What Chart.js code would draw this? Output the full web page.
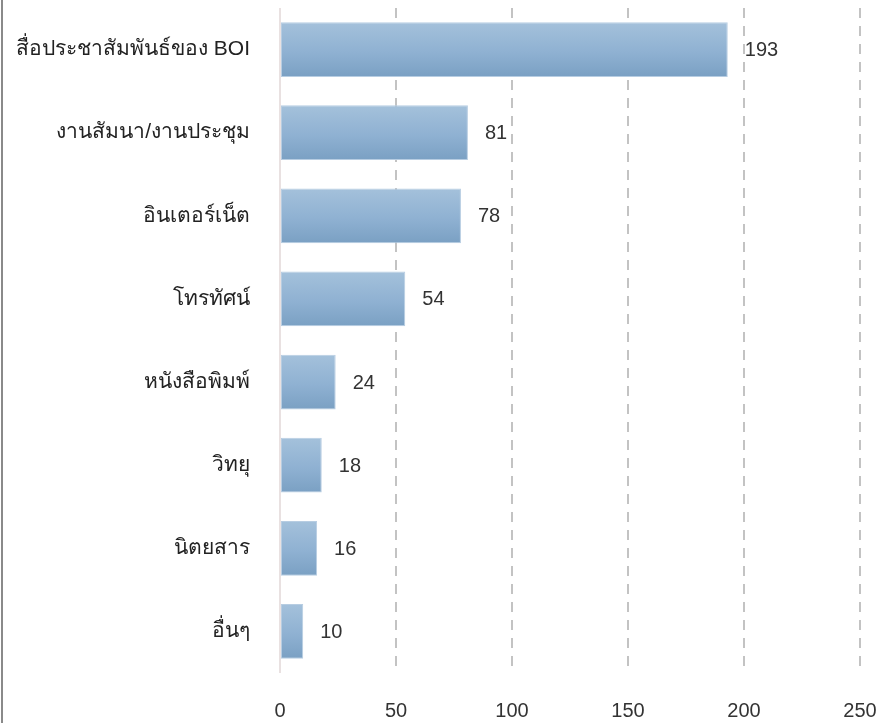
<!DOCTYPE html>
<html>
<head>
<meta charset="utf-8">
<script src="https://cdn.jsdelivr.net/npm/chart.js@4/dist/chart.umd.min.js"></script>
<style>
  html, body { margin: 0; padding: 0; background: #fff; }
  #wrap { width: 894px; height: 723px; position: relative; }
</style>
</head>
<body>
<div id="wrap"><canvas id="barChart"></canvas></div>
<script>
const categories = ['สื่อประชาสัมพันธ์ของ BOI', 'งานสัมนา/งานประชุม', 'อินเตอร์เน็ต', 'โทรทัศน์', 'หนังสือพิมพ์', 'วิทยุ', 'นิตยสาร', 'อื่นๆ']
const values = [193, 81, 78, 54, 24, 18, 16, 10]
const xTicks = [0, 50, 100, 150, 200, 250]

const labelFont = 'Tahoma, "Liberation Sans", "Noto Sans", sans-serif'
const barPct = 0.66

// vertical gradient for each bar, worked out from the y scale
const barFill = (ctx) => {
    const chart = ctx.chart
    const y = chart.scales.y
    if (!y || ctx.dataIndex === undefined) return '#8fb1d2'
    const c = y.getPixelForValue(ctx.dataIndex)
    const half = (y.height / categories.length) * barPct / 2
    if (!isFinite(c) || !isFinite(half) || half <= 0) return '#8fb1d2'
    const g = chart.ctx.createLinearGradient(0, c - half, 0, c + half)
    g.addColorStop(0, '#a4c1db')
    g.addColorStop(0.55, '#8fb1d2')
    g.addColorStop(1, '#7aa0c3')
    return g
}

const valueLabels = {
    id: 'valueLabels',
    afterDatasetsDraw(chart) {
        const ctx = chart.ctx
        const meta = chart.getDatasetMeta(0)
        ctx.save()
        ctx.font = '20px "Liberation Sans", Arial, sans-serif'
        ctx.fillStyle = '#333'
        ctx.textBaseline = 'middle'
        ctx.textAlign = 'left'
        meta.data.forEach((bar, i) => {
            ctx.fillText(values[i], bar.x + 17, bar.y + 1)
        })
        ctx.restore()
    }
}

const leftRule = {
    id: 'leftRule',
    beforeDraw(chart) {
        const ctx = chart.ctx
        ctx.save()
        ctx.fillStyle = '#fff'
        ctx.fillRect(0, 0, chart.width, chart.height)
        ctx.strokeStyle = '#8a8a8a'
        ctx.lineWidth = 2
        ctx.beginPath()
        ctx.moveTo(2, 0)
        ctx.lineTo(2, chart.height)
        ctx.stroke()
        ctx.restore()
    }
}

const config = {
    type: 'bar',
    data: {
        labels: categories,
        datasets: [{
            data: values,
            backgroundColor: barFill,
            borderColor: '#b7cde2',
            borderWidth: 1,
            borderSkipped: false,
            barPercentage: 1,
            categoryPercentage: barPct
        }]
    },
    options: {
        indexAxis: 'y',
        responsive: false,
        animation: false,
        devicePixelRatio: 1,
        layout: { padding: { top: 8, right: 34, bottom: 2, left: 0 } },
        plugins: {
            legend: { display: false },
            tooltip: { enabled: false }
        },
        scales: {
            x: {
                min: 0,
                max: 250,
                afterBuildTicks: (scale) => { scale.ticks = xTicks.map(v => ({ value: v })) },
                grid: {
                    color: (c) => c.index === 0 ? '#e9e1e1' : '#c3c3c3',
                    lineWidth: 2,
                    drawTicks: true,
                    tickLength: 28,
                    tickColor: 'rgba(0,0,0,0)'
                },
                border: {
                    display: false,
                    dash: (c) => c.index === 0 ? [] : [10, 8]
                },
                ticks: {
                    padding: 0,
                    color: '#333',
                    font: { family: '"Liberation Sans Narrow", "Liberation Sans", Arial, sans-serif', size: 20, lineHeight: 1 }
                }
            },
            y: {
                grid: { display: true, color: 'rgba(0,0,0,0)', drawTicks: true, tickLength: 30, tickColor: 'rgba(0,0,0,0)' },
                border: { display: false },
                afterFit: (scale) => {
                    scale.width = 280
                    scale.paddingTop = 0
                    scale.paddingBottom = 0
                },
                ticks: {
                    padding: 0,
                    color: '#222',
                    font: { family: labelFont, size: 21 }
                }
            }
        }
    },
    plugins: [leftRule, valueLabels]
}

const cv = document.getElementById('barChart')
cv.width = 894
cv.height = 723
new Chart(cv, config)
</script>
</body>
</html>
